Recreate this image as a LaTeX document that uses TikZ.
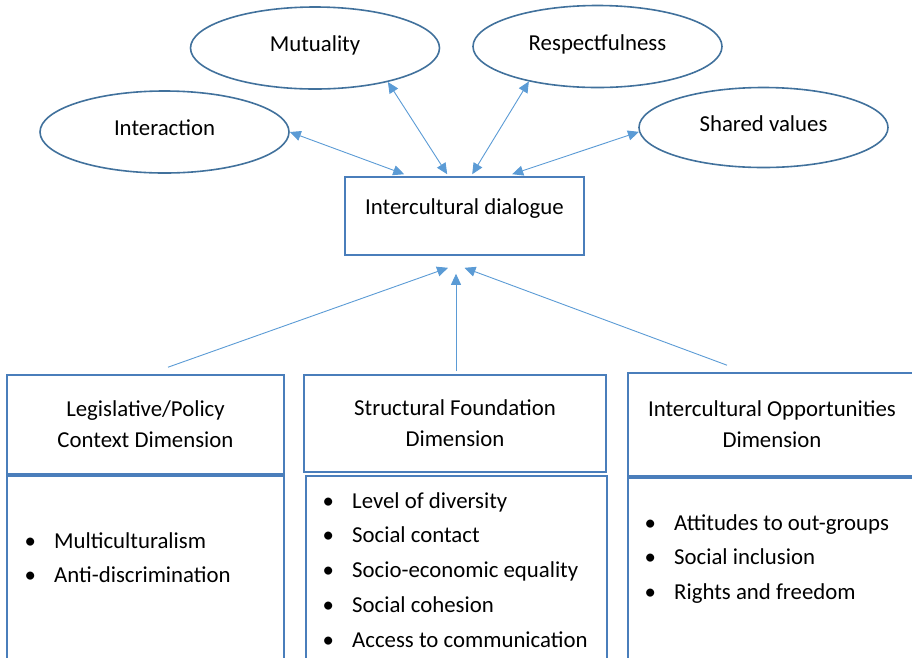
\documentclass[tikz,border=0pt]{standalone}
\usepackage{fontspec}
\setmainfont{Carlito}
\usetikzlibrary{arrows.meta,calc,shapes.geometric}
\definecolor{ovalline}{HTML}{41719C}
\definecolor{panelline}{HTML}{4A7EBB}
\definecolor{linkline}{HTML}{5B9BD5}
% bullet hung 24pt to the left of the item text
\newcommand\bulletitem{\llap{\makebox[0pt][c]{•}\hspace{24pt}}}
\begin{document}
\begin{tikzpicture}[x=1pt,y=-1pt,
  every node/.style={font=\fontsize{22.8}{31}\selectfont, inner sep=0pt, text=black},
  ovalnode/.style={ellipse, draw=ovalline, line width=1.6pt, minimum width=249pt, minimum height=82pt, text height=12pt, text depth=5pt},
  panel/.style={rectangle, draw=panelline, line width=1.6pt},
  link/.style={draw=linkline, line width=0.9pt},
  onehead/.style={-{Triangle[length=11pt,width=10pt]}},
  twoheads/.style={{Triangle[length=11pt,width=10pt]}-{Triangle[length=11pt,width=10pt]}},
  items/.style={align=left, anchor=base west}
]
\useasboundingbox (0,0) rectangle (912,657);
\clip (0,0) rectangle (912,657);

% outcome ovals
\node[ovalnode] (int) at (164.5,132) {Interaction};
\node[ovalnode] (mut) at (315,48) {Mutuality};
\node[ovalnode] (res) at (597.5,46.5) {Respectfulness};
\node[ovalnode, minimum height=80pt] (shv) at (763.5,127.5) {Shared values};

% central box
\node[panel, minimum width=239pt, minimum height=78pt, text height=12pt, text depth=16pt] (dlg) at (464.5,216) {Intercultural dialogue};

% dimension headers
\node[panel, minimum width=277pt, minimum height=99pt, align=center] (leg) at (145.5,424.5) {Legislative/Policy\\Context Dimension};
\node[panel, minimum width=302pt, minimum height=97pt, align=center] (str) at (455,423.5) {Structural Foundation\\Dimension};
\node[panel, minimum width=288pt, minimum height=103pt, align=center] (opp) at (772,424.5) {Intercultural Opportunities\\Dimension};

% dimension bodies (running off the bottom edge)
\node[panel, minimum width=277pt, minimum height=224pt] (legbody) at (145.5,588) {};
\node[panel, minimum width=301pt, minimum height=224pt] (strbody) at (456.5,588) {};
\node[panel, minimum width=288pt, minimum height=222pt] (oppbody) at (772,589) {};

% bullet lists, placed by the baseline of their last line
\node[items, font=\fontsize{22.8}{34}\selectfont] (legitems) at (54,582) {\bulletitem Multiculturalism\\\bulletitem Anti-discrimination};
\node[items, font=\fontsize{22.8}{34.75}\selectfont] (stritems) at (352,647) {\bulletitem Level of diversity\\\bulletitem Social contact\\\bulletitem Socio-economic equality\\\bulletitem Social cohesion\\\bulletitem Access to communication};
\node[items, font=\fontsize{22.8}{34.5}\selectfont] (oppitems) at (674,599) {\bulletitem Attitudes to out-groups\\\bulletitem Social inclusion\\\bulletitem Rights and freedom};

% two-way links between dialogue and its qualities
\draw[link,twoheads] (int.east) -- ($(dlg.north west)+(60,-2)$);
\draw[link,twoheads] (mut.-25) -- ($(dlg.north west)+(103,-2)$);
\draw[link,twoheads] (res.-153) -- ($(dlg.north west)+(128,-2)$);
\draw[link,twoheads] (shv.182) -- ($(dlg.north west)+(168,-2)$);

% dimensions feeding into dialogue
\draw[link,onehead] ($(leg.north)+(22.5,-7)$) -- ($(dlg.south)+(-16.5,12)$);
\draw[link,onehead] ($(str.north)+(1,-3)$) -- ($(dlg.south)+(-8.5,18)$);
\draw[link,onehead] ($(opp.north)+(-45,-7)$) -- ($(dlg.south)+(0,12)$);
\end{tikzpicture}
\end{document}
